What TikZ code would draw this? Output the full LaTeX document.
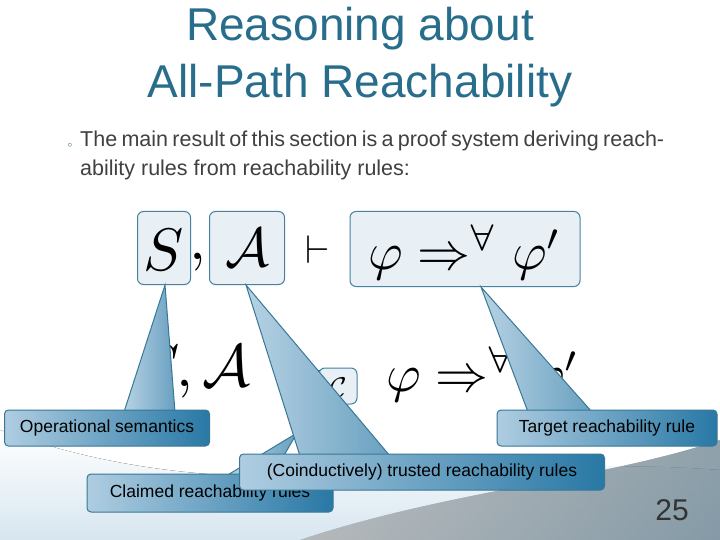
\documentclass[tikz,border=0pt]{standalone}
\usepackage{fontspec}
\setmainfont{Liberation Sans}
\usepackage{amsmath,amssymb}
\usetikzlibrary{calc}
\definecolor{ttl}{RGB}{40,110,140}
\definecolor{cdark}{RGB}{40,120,165}
\definecolor{clight}{RGB}{175,205,225}
\definecolor{cedge}{RGB}{55,120,150}
\definecolor{boxedge}{RGB}{70,130,160}
\definecolor{boxfill}{RGB}{232,240,246}
\newcommand{\mybigmath}[2]{\scalebox{#1}{$#2$}}
\tikzset{
 callout/.style={rounded corners=4pt,draw=cedge,line width=1pt,left color=clight,right color=cdark,inner sep=0pt,font=\fontsize{17.5}{17.5}\selectfont},
 ptr/.style={draw=cedge,line width=1pt,left color=clight!90!white,right color=cdark!70},
 mbox/.style={rounded corners=6pt,draw=boxedge,line width=1pt,fill=boxfill},
 mth/.style={inner sep=0pt}
}
\begin{document}
\begin{tikzpicture}[x=1pt,y=-1pt]
\useasboundingbox (0,0) rectangle (720,540);
\fill[white] (0,0) rectangle (720,540);
\fill[top color=white,bottom color=clight!50] (0,430) .. controls (250,520) and (450,450) .. (720,470) -- (720,540) -- (0,540) -- cycle;
\fill[left color=white,right color=cdark!45,opacity=0.5] (300,540) .. controls (450,490) and (600,480) .. (720,440) -- (720,540) -- cycle;
% title
\node[ttl,font=\fontsize{46}{57}\selectfont,align=center] (title) at (360,57) {Reasoning about\\All-Path Reachability};
% body
\node[ttl,font=\fontsize{9}{9}\selectfont] (bul) at (70,145) {$\circ$};
\node[anchor=north west,text width=584pt,inner sep=0pt,font=\fontsize{21.5}{29}\selectfont,align=justify,text=black!75] (body) at (80,131) {\hyphenpenalty=10000 The main result of this section is a proof system deriving reachability rules from reachability rules:};
% top formula
\fill[white] (138,210) rectangle (580,286);
\node[mbox,minimum width=53pt,minimum height=73pt] (sb) at (164,248) {};
\node[mbox,minimum width=75pt,minimum height=73pt] (ab) at (247,248) {};
\node[mbox,minimum width=230pt,minimum height=75pt] (pb) at (465,249) {};
\node[mth] (s1) at (164,250) {\mybigmath{6}{S}};
\node[mth] (c1) at (198,262) {\mybigmath{6}{,}};
\node[mth] (a1) at (247,248) {\mybigmath{5.5}{\mathcal{A}}};
\node[mth] (t1) at (318,250) {\mybigmath{4}{\vdash}};
\node[mth] (p1) at (465,252) {\mybigmath{5.3}{\varphi \Rightarrow^{\forall} \varphi'}};
% second formula
\fill[white] (120,325) rectangle (597,415);
\node[mth] (s2) at (195,372) {\mybigmath{6}{S,\mathcal{A}}};
\node[mth] (t2) at (312,372) {\mybigmath{4}{\vdash}};
\node[mbox,minimum width=38pt,minimum height=36pt] (cb) at (338,386) {};
\node[mth] (cc) at (338,388) {\mybigmath{3}{\mathcal{C}}};
\node[mth] (p2) at (483,374) {\mybigmath{5.3}{\varphi \Rightarrow^{\forall} \varphi'}};
% callouts
\coordinate (o1) at (165,285); \coordinate (t1a) at (481,287);
\coordinate (k1) at (297,433); \coordinate (q1) at (246,285);
\path[ptr] (o1) -- (175,412) -- (124,412) -- cycle;
\node[callout,minimum width=205pt,minimum height=36pt] (op) at (107,428) {Operational semantics};
\path[ptr] (t1a) -- (592,412) -- (528,412) -- cycle;
\node[callout,minimum width=220pt,minimum height=36pt] (tg) at (607,428) {Target reachability rule};
\path[ptr] (k1) -- (272,476) -- (226,476) -- cycle;
\node[callout,minimum width=246pt,minimum height=38pt] (cl) at (210,493) {Claimed reachability rules};
\path[ptr] (q1) -- (390,456) -- (300,456) -- cycle;
\node[callout,minimum width=365pt,minimum height=36pt] (co) at (422,472) {(Coinductively) trusted reachability rules};
\node[font=\fontsize{30}{30}\selectfont,text=black!80] (num) at (672,510) {25};
\end{tikzpicture}
\end{document}
